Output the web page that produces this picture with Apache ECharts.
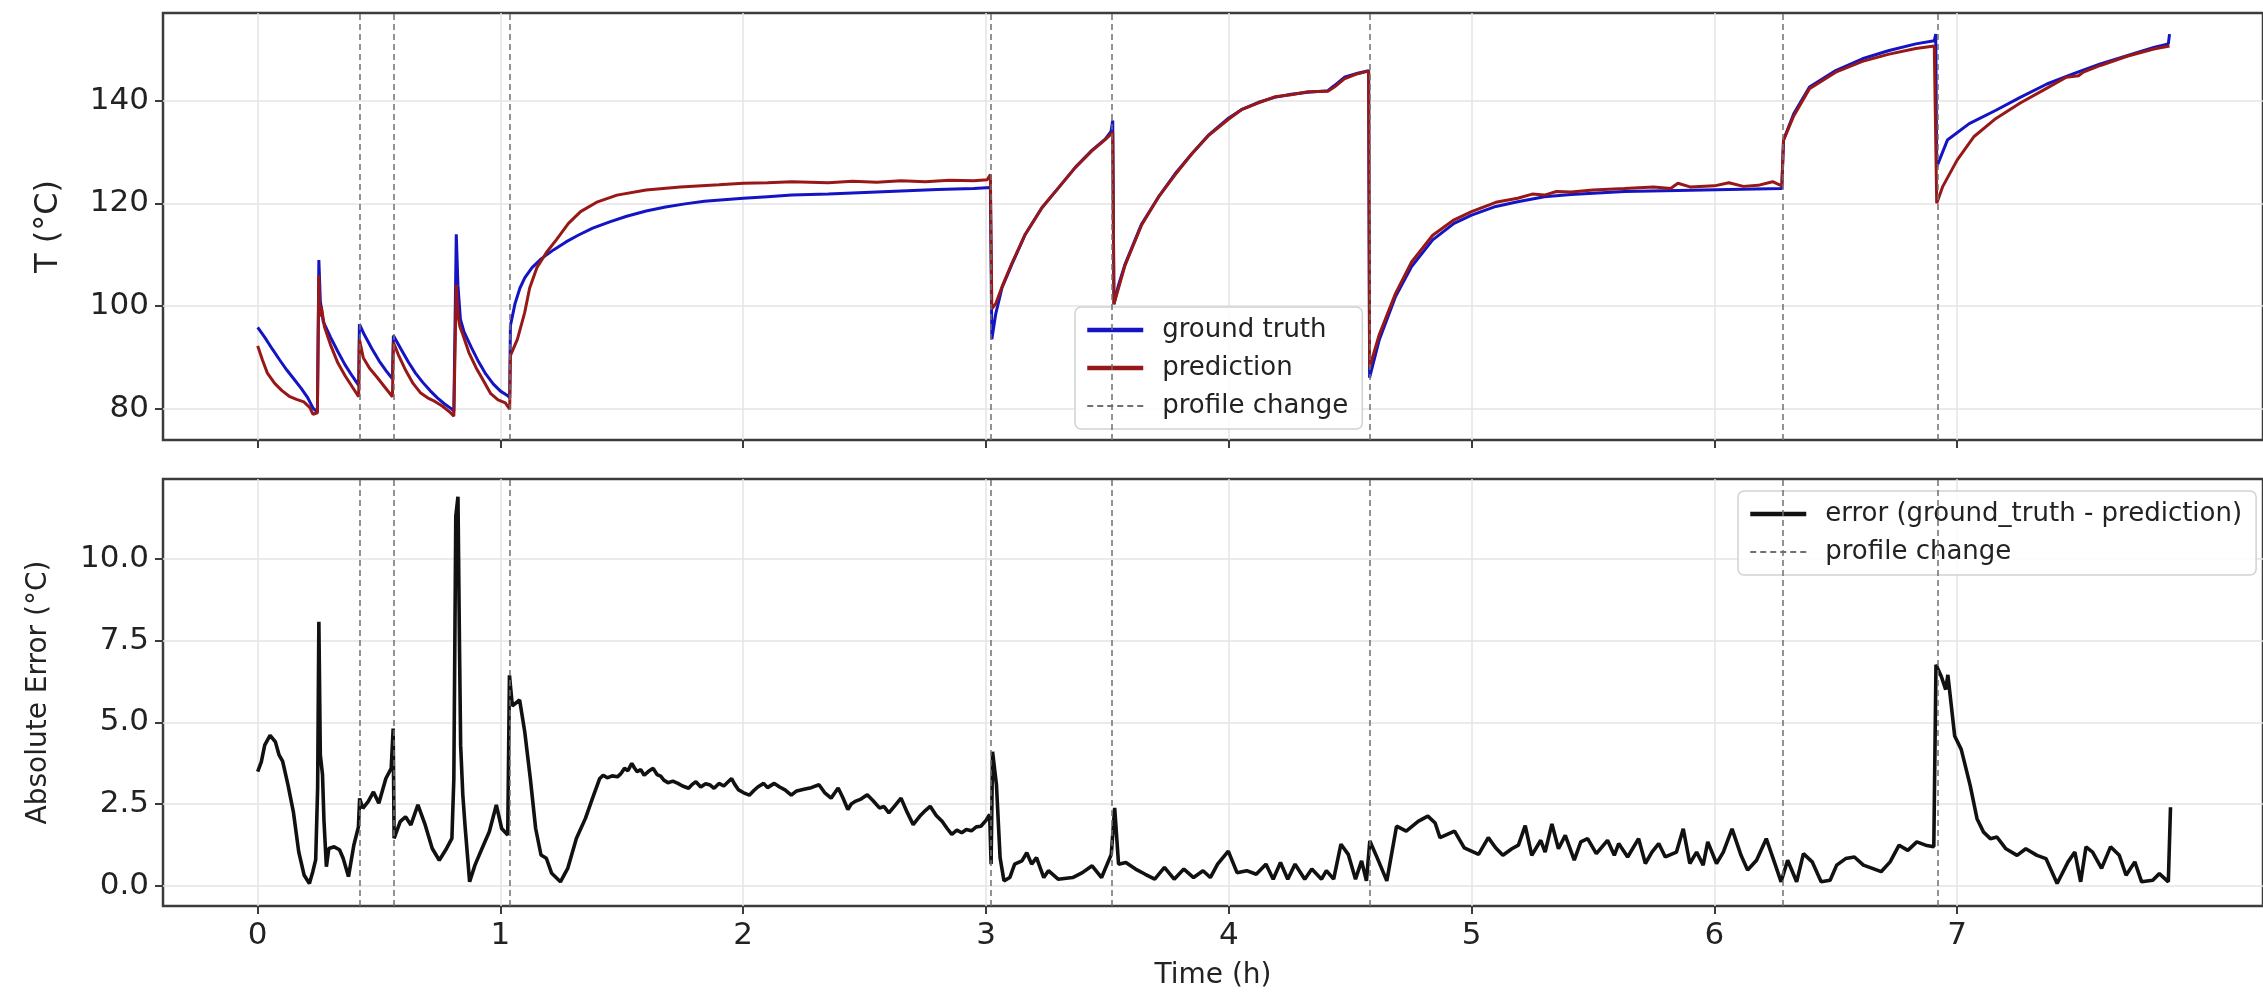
<!DOCTYPE html>
<html><head><meta charset="utf-8">
<script src="https://cdn.jsdelivr.net/npm/echarts@6.0.0/dist/echarts.min.js"></script>
<style>html,body{margin:0;padding:0;background:#fff}#c{width:2263px;height:1000px}</style>
</head><body><div id="c"></div>
<script>
// ---- data (time in hours) ----
const groundTruth = [
[0.000,95.9],[0.030,93.9],[0.060,91.7],[0.090,89.6],[0.120,87.6],[0.150,85.8],[0.180,84.0],[0.205,82.3],[0.228,80.2],[0.246,79.4],
[0.252,109.0],[0.258,101.0],[0.270,97.0],[0.300,94.0],[0.330,91.2],[0.360,88.6],[0.390,86.4],[0.416,84.6],
[0.419,96.5],[0.440,94.4],[0.470,91.8],[0.500,89.4],[0.530,87.4],[0.555,85.9],
[0.559,94.3],[0.590,91.7],[0.620,89.2],[0.650,87.0],[0.680,85.2],[0.710,83.6],[0.740,82.2],[0.770,81.0],[0.800,80.0],[0.808,79.6],
[0.818,114.0],[0.825,104.0],[0.835,97.5],[0.850,95.0],[0.880,92.0],[0.910,89.2],[0.940,86.8],[0.970,84.9],[1.000,83.5],[1.030,82.6],[1.038,82.2],
[1.041,96.2],[1.060,100.5],[1.080,103.5],[1.100,105.5],[1.130,107.5],[1.170,109.3],[1.220,111.0],[1.270,112.5],[1.320,113.8],[1.380,115.2],
[1.450,116.4],[1.520,117.5],[1.600,118.5],[1.680,119.3],[1.760,119.9],[1.840,120.4],[1.920,120.7],[2.000,121.0],[2.100,121.3],[2.200,121.6],
[2.350,121.8],[2.500,122.1],[2.650,122.4],[2.800,122.7],[2.950,122.9],[3.018,123.1],
[3.024,93.6],[3.040,98.5],[3.066,103.6],[3.107,108.2],[3.162,114.0],[3.231,119.2],[3.300,123.1],[3.368,127.0],[3.436,130.3],[3.491,132.5],[3.515,134.0],[3.522,136.1],
[3.527,100.4],[3.545,104.0],[3.573,108.2],[3.641,116.0],[3.710,121.2],[3.778,125.7],[3.847,129.6],[3.915,133.2],[4.000,136.6],[4.052,138.2],
[4.120,139.6],[4.189,140.6],[4.257,141.2],[4.326,141.6],[4.408,141.9],[4.435,142.9],[4.476,144.5],[4.531,145.3],[4.576,145.8],
[4.580,86.1],[4.620,93.5],[4.687,101.9],[4.753,107.7],[4.840,112.9],[4.928,116.1],[5.000,117.7],[5.100,119.4],[5.190,120.3],[5.300,121.3],
[5.410,121.7],[5.630,122.3],[5.850,122.5],[6.060,122.7],[6.278,122.9],
[6.285,132.3],[6.327,137.4],[6.392,142.6],[6.500,145.8],[6.610,148.1],[6.720,149.7],[6.830,151.0],[6.906,151.6],[6.912,152.9],
[6.916,127.1],[6.960,132.3],[7.050,135.5],[7.160,138.1],[7.260,140.6],[7.370,143.2],[7.480,145.2],[7.590,147.1],[7.700,148.7],[7.810,150.3],[7.870,151.0],[7.875,152.9]
];
const prediction = [
[0.000,92.3],[0.020,89.5],[0.040,87.0],[0.070,85.0],[0.100,83.6],[0.130,82.5],[0.160,81.9],[0.190,81.4],[0.215,80.3],[0.228,79.0],[0.246,79.3],
[0.252,106.0],[0.256,98.0],[0.262,100.0],[0.275,96.0],[0.300,92.5],[0.330,89.0],[0.360,86.5],[0.390,84.3],[0.416,82.4],
[0.419,93.5],[0.435,90.0],[0.460,88.0],[0.490,86.3],[0.520,84.5],[0.555,82.4],
[0.559,93.0],[0.580,90.5],[0.610,87.5],[0.640,85.0],[0.670,83.2],[0.700,82.2],[0.730,81.5],[0.760,80.6],[0.790,79.5],[0.808,78.6],
[0.818,104.2],[0.826,98.0],[0.833,96.0],[0.845,94.5],[0.870,91.0],[0.900,88.0],[0.930,85.5],[0.960,83.0],[0.990,81.8],[1.020,81.2],[1.038,80.0],
[1.041,90.4],[1.070,93.6],[1.100,98.8],[1.120,103.5],[1.150,107.5],[1.190,110.5],[1.230,112.9],[1.280,116.1],[1.330,118.4],[1.400,120.3],
[1.480,121.6],[1.600,122.6],[1.740,123.2],[1.900,123.6],[2.000,123.9],[2.100,124.0],[2.200,124.2],[2.350,124.0],[2.450,124.3],[2.550,124.1],
[2.650,124.4],[2.750,124.2],[2.850,124.5],[2.950,124.4],[3.005,124.6],[3.018,125.6],
[3.024,99.5],[3.040,100.5],[3.066,103.8],[3.107,108.4],[3.162,114.0],[3.231,119.2],[3.300,123.1],[3.368,127.0],[3.436,130.2],[3.491,132.4],[3.522,133.8],
[3.527,100.4],[3.573,108.0],[3.641,115.8],[3.710,121.2],[3.778,125.5],[3.847,129.6],[3.915,133.1],[4.000,136.4],[4.052,138.2],[4.120,139.5],
[4.189,140.7],[4.257,141.1],[4.326,141.7],[4.408,141.8],[4.435,142.6],[4.476,144.2],[4.531,145.2],[4.576,145.7],
[4.580,88.1],[4.620,94.5],[4.687,102.5],[4.753,108.6],[4.840,113.8],[4.928,116.8],[5.000,118.4],[5.100,120.2],[5.190,121.0],[5.250,121.8],
[5.300,121.6],[5.350,122.3],[5.410,122.2],[5.500,122.6],[5.630,122.9],[5.750,123.2],[5.820,122.9],[5.850,123.9],[5.900,123.2],[6.000,123.4],
[6.060,124.0],[6.120,123.3],[6.180,123.5],[6.240,124.2],[6.278,123.4],
[6.285,132.3],[6.327,137.0],[6.392,142.3],[6.500,145.5],[6.610,147.6],[6.720,149.0],[6.830,150.1],[6.906,150.6],
[6.916,120.0],[6.940,123.2],[7.000,128.4],[7.070,133.0],[7.160,136.5],[7.260,139.5],[7.370,142.4],[7.450,144.5],[7.500,144.8],[7.520,145.5],
[7.590,146.8],[7.700,148.6],[7.810,150.0],[7.875,150.6]
];
const absError = [
[0.000,3.49],[0.015,3.79],[0.029,4.30],[0.051,4.60],[0.073,4.40],[0.088,4.00],[0.103,3.80],[0.125,3.08],[0.147,2.26],[0.169,1.04],[0.191,0.33],
[0.213,0.07],[0.227,0.43],[0.239,0.80],[0.247,3.00],[0.252,8.07],[0.258,4.00],[0.267,3.40],[0.273,2.00],[0.283,0.58],[0.293,1.14],[0.315,1.19],
[0.337,1.10],[0.352,0.84],[0.374,0.28],[0.396,1.24],[0.415,1.80],[0.420,2.67],[0.433,2.37],[0.455,2.57],[0.477,2.87],[0.499,2.52],[0.528,3.28],
[0.550,3.59],[0.558,4.81],[0.562,1.45],[0.587,1.96],[0.609,2.11],[0.631,1.86],[0.660,2.47],[0.690,1.86],[0.719,1.14],[0.748,0.78],[0.778,1.14],
[0.800,1.45],[0.808,3.28],[0.816,11.30],[0.825,11.90],[0.831,7.50],[0.836,4.30],[0.845,2.77],[0.855,1.75],[0.873,0.12],[0.895,0.63],[0.924,1.14],
[0.954,1.65],[0.983,2.47],[1.005,1.75],[1.030,1.55],[1.037,6.44],[1.049,5.50],[1.079,5.68],[1.100,4.71],[1.123,3.28],[1.145,1.75],[1.167,0.94],
[1.189,0.84],[1.211,0.38],[1.247,0.12],[1.277,0.53],[1.313,1.45],[1.350,2.06],[1.379,2.67],[1.409,3.28],[1.423,3.38],[1.440,3.30],[1.460,3.36],
[1.482,3.33],[1.495,3.42],[1.511,3.59],[1.525,3.52],[1.541,3.74],[1.552,3.60],[1.563,3.49],[1.578,3.55],[1.592,3.38],[1.610,3.50],[1.629,3.59],
[1.645,3.40],[1.660,3.35],[1.673,3.23],[1.690,3.15],[1.710,3.20],[1.731,3.13],[1.750,3.05],[1.775,2.98],[1.790,3.10],[1.805,3.18],[1.825,3.02],
[1.845,3.12],[1.864,3.08],[1.880,2.98],[1.900,3.13],[1.920,3.05],[1.952,3.28],[1.965,3.10],[1.981,2.93],[2.000,2.85],[2.025,2.77],[2.045,2.92],
[2.060,3.02],[2.084,3.13],[2.100,3.00],[2.128,3.13],[2.150,3.02],[2.172,2.93],[2.198,2.77],[2.220,2.90],[2.250,2.95],[2.280,3.00],[2.312,3.09],
[2.335,2.85],[2.362,2.68],[2.378,2.85],[2.391,2.99],[2.410,2.70],[2.431,2.33],[2.445,2.50],[2.461,2.58],[2.485,2.65],[2.511,2.78],[2.535,2.60],
[2.561,2.38],[2.580,2.42],[2.600,2.23],[2.625,2.45],[2.650,2.68],[2.675,2.25],[2.700,1.87],[2.730,2.15],[2.750,2.30],[2.770,2.43],[2.795,2.15],
[2.819,1.97],[2.840,1.75],[2.859,1.57],[2.880,1.70],[2.900,1.62],[2.919,1.72],[2.940,1.68],[2.960,1.80],[2.979,1.82],[3.000,2.00],[3.015,2.18],
[3.021,0.66],[3.027,4.10],[3.043,3.09],[3.058,0.86],[3.074,0.15],[3.098,0.25],[3.118,0.66],[3.148,0.76],[3.168,1.01],[3.188,0.66],
[3.208,0.86],[3.238,0.25],[3.257,0.46],[3.297,0.20],[3.357,0.25],[3.397,0.40],[3.437,0.61],[3.476,0.25],[3.516,0.96],[3.530,2.38],[3.546,0.66],
[3.576,0.71],[3.616,0.51],[3.656,0.35],[3.695,0.20],[3.735,0.56],[3.775,0.20],[3.815,0.51],[3.855,0.25],[3.894,0.46],[3.924,0.25],[3.954,0.66],
[3.998,1.06],[4.034,0.40],[4.074,0.46],[4.113,0.35],[4.153,0.66],[4.183,0.20],[4.213,0.71],[4.243,0.20],[4.273,0.66],[4.313,0.20],[4.342,0.51],
[4.382,0.20],[4.402,0.46],[4.432,0.20],[4.462,1.27],[4.492,0.96],[4.522,0.20],[4.547,0.76],[4.567,0.15],[4.581,1.37],[4.611,0.86],[4.651,0.15],
[4.691,1.82],[4.731,1.67],[4.780,1.97],[4.820,2.13],[4.850,1.92],[4.870,1.47],[4.930,1.67],[4.970,1.16],[5.029,0.96],[5.069,1.47],[5.099,1.16],
[5.129,0.93],[5.166,1.13],[5.193,1.24],[5.221,1.84],[5.248,0.93],[5.285,1.39],[5.303,1.03],[5.331,1.89],[5.358,1.13],[5.386,1.54],[5.423,0.78],
[5.450,1.34],[5.478,1.44],[5.514,0.98],[5.560,1.39],[5.588,0.93],[5.606,1.29],[5.643,0.88],[5.688,1.44],[5.716,0.68],[5.743,1.03],[5.771,1.29],
[5.798,0.88],[5.844,1.03],[5.872,1.74],[5.899,0.68],[5.927,1.03],[5.954,0.63],[5.973,1.34],[6.009,0.68],[6.037,1.03],[6.073,1.74],[6.110,0.93],
[6.137,0.48],[6.174,0.78],[6.214,1.44],[6.247,0.73],[6.275,0.12],[6.302,0.78],[6.339,0.12],[6.367,0.98],[6.403,0.73],[6.440,0.12],[6.477,0.17],
[6.504,0.63],[6.541,0.83],[6.577,0.88],[6.614,0.63],[6.651,0.53],[6.687,0.43],[6.724,0.73],[6.761,1.24],[6.797,1.08],[6.834,1.34],[6.870,1.24],
[6.904,1.19],[6.913,6.76],[6.935,6.40],[6.953,6.00],[6.962,6.45],[6.990,4.58],[7.017,4.17],[7.054,3.06],[7.082,2.05],[7.109,1.64],[7.137,1.44],
[7.164,1.49],[7.201,1.13],[7.247,0.93],[7.283,1.13],[7.329,0.93],[7.366,0.83],[7.412,0.07],[7.457,0.73],[7.485,1.03],[7.509,0.12],[7.531,1.19],
[7.558,1.03],[7.595,0.53],[7.632,1.19],[7.668,0.93],[7.696,0.32],[7.732,0.73],[7.760,0.12],[7.806,0.17],[7.833,0.37],[7.870,0.12],[7.879,2.40]
];
const profileChanges = [0.42, 0.56, 1.04, 3.022, 3.525, 4.578, 6.28, 6.915];
const timeTicks = [0, 1, 2, 3, 4, 5, 6, 7];
const tempTicks = [80, 100, 120, 140];
const errorTicks = [0, 2.5, 5, 7.5, 10];

// ---- chart ----
const FONT = 'DejaVu Sans';
const TXT = '#222';
const FRAME = '#3c3c3c';
const GRIDLINE = '#e4e4e4';
const DASH = [6, 4];
const chart = echarts.init(document.getElementById('c'), null, {renderer: 'canvas', width: 2263, height: 1000});

function xAxisCfg(idx, withLabels) {
  return {
    type: 'value', gridIndex: idx, min: -0.39, max: 8.26, position: 'bottom',
    axisLine: {show: false, onZero: false},
    axisTick: {show: true, inside: false, length: 8, customValues: timeTicks, lineStyle: {color: FRAME, width: 2}},
    axisLabel: {show: withLabels, customValues: timeTicks, fontSize: 31, color: TXT, fontFamily: FONT, margin: 14},
    splitLine: {show: true, lineStyle: {color: GRIDLINE, width: 1.5}},
    name: withLabels ? 'Time (h)' : '', nameLocation: 'middle', nameGap: 56,
    nameTextStyle: {fontSize: 28, color: TXT, fontFamily: FONT}
  };
}
function yAxisCfg(idx, min, max, ticks, fmt, name, nameSize, nameGap) {
  return {
    type: 'value', gridIndex: idx, min: min, max: max, position: 'left',
    axisLine: {show: false, onZero: false},
    axisTick: {show: true, inside: false, length: 8, customValues: ticks, lineStyle: {color: FRAME, width: 2}},
    axisLabel: {customValues: ticks, fontSize: 31, color: TXT, fontFamily: FONT, margin: 14, formatter: fmt},
    splitLine: {show: true, lineStyle: {color: GRIDLINE, width: 1.5}},
    name: name, nameLocation: 'middle', nameGap: nameGap,
    nameTextStyle: {fontSize: nameSize, color: TXT, fontFamily: FONT}
  };
}
function profileSeries(i) {
  return {
    name: 'profile change', type: 'line', xAxisIndex: i, yAxisIndex: i, data: [],
    symbol: 'none', showSymbol: false, z: 5,
    lineStyle: {type: DASH, color: '#707070', width: 1.5}, itemStyle: {color: '#707070'},
    markLine: {
      silent: true, symbol: ['none', 'none'], label: {show: false}, animation: false,
      lineStyle: {type: DASH, color: '#707070', width: 1.5},
      data: profileChanges.map(t => ({xAxis: t}))
    }
  };
}
const legendBase = {
  orient: 'vertical', itemWidth: 56, itemHeight: 14, itemGap: 12, selectedMode: false,
  padding: [10, 14, 10, 10], borderColor: '#d2d2d2', borderWidth: 1.5, borderRadius: 6,
  backgroundColor: 'rgba(255,255,255,0.85)',
  itemStyle: {opacity: 0},
  textStyle: {fontSize: 26, color: TXT, fontFamily: FONT, padding: [0, 0, 0, 14]}
};

chart.setOption({
  animation: false,
  backgroundColor: '#ffffff',
  grid: [
    {left: 163, right: -9, top: 13, height: 427, show: true, borderColor: FRAME, borderWidth: 2.5},
    {left: 163, right: -9, top: 479, height: 427, show: true, borderColor: FRAME, borderWidth: 2.5}
  ],
  xAxis: [xAxisCfg(0, false), xAxisCfg(1, true)],
  yAxis: [
    yAxisCfg(0, 74, 157, tempTicks, v => String(v), 'T (°C)', 32, 98),
    yAxisCfg(1, -0.62, 12.44, errorTicks, v => v.toFixed(1), 'Absolute Error (°C)', 28, 110)
  ],
  legend: [
    Object.assign({}, legendBase, {left: 1075, top: 307,
      data: [{name: 'ground truth', lineStyle: {width: 4.5}}, {name: 'prediction', lineStyle: {width: 4.5}}, {name: 'profile change'}]}),
    Object.assign({}, legendBase, {left: 1738, top: 491,
      data: [{name: 'error (ground_truth - prediction)', lineStyle: {width: 4.5}}, {name: 'profile change'}]})
  ],
  series: [
    {name: 'ground truth', type: 'line', xAxisIndex: 0, yAxisIndex: 0, data: groundTruth, symbol: 'none', showSymbol: false,
     lineStyle: {color: '#1414c4', width: 3}, itemStyle: {color: '#1414c4'}, z: 2},
    {name: 'prediction', type: 'line', xAxisIndex: 0, yAxisIndex: 0, data: prediction, symbol: 'none', showSymbol: false,
     lineStyle: {color: '#981818', width: 3}, itemStyle: {color: '#981818'}, z: 3},
    profileSeries(0),
    {name: 'error (ground_truth - prediction)', type: 'line', xAxisIndex: 1, yAxisIndex: 1, data: absError, symbol: 'none', showSymbol: false,
     lineStyle: {color: '#111111', width: 3.6}, itemStyle: {color: '#111111'}, z: 3},
    profileSeries(1)
  ]
});
</script>
</body></html>
